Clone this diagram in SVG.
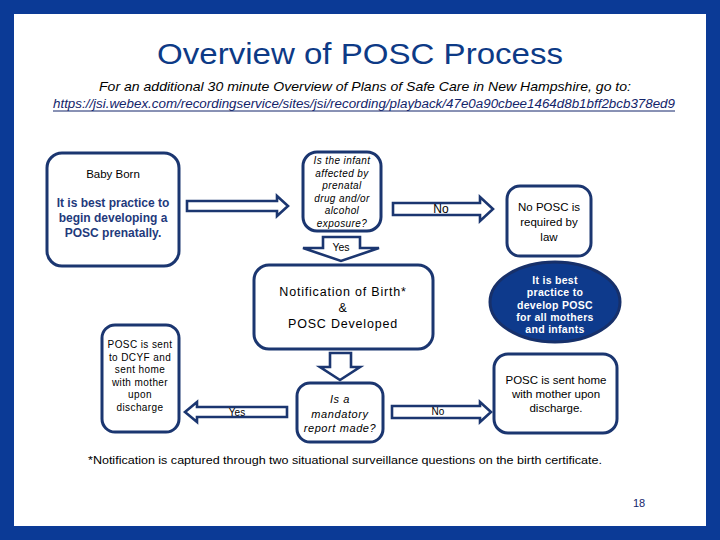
<svg xmlns="http://www.w3.org/2000/svg" width="720" height="540" viewBox="0 0 720 540">
<style>
.box{fill:#fff;stroke:#1b3670;stroke-width:3}
.arr{fill:#fff;stroke:#1b3670;stroke-width:2.6;stroke-linejoin:miter}
.t{font-family:"Liberation Sans",Arial,sans-serif;fill:#000;text-anchor:middle}
.q{font-family:"Liberation Sans",Arial,sans-serif;font-style:italic;fill:#000;text-anchor:middle}
.b{font-family:"Liberation Sans",Arial,sans-serif;font-weight:bold;fill:#1f3a7c;text-anchor:middle}
.w{font-family:"Liberation Sans",Arial,sans-serif;font-weight:bold;fill:#fff;text-anchor:middle}
</style>
<rect x="0" y="0" width="720" height="540" fill="#0b3a96"/>
<rect x="14" y="14" width="692" height="512" fill="#fff"/>
<text x="360" y="64" font-family="Liberation Sans,Arial,sans-serif" font-size="30" fill="#0d3a86" text-anchor="middle" textLength="406" lengthAdjust="spacingAndGlyphs">Overview of POSC Process</text>
<text x="365" y="91" font-family="Liberation Sans,Arial,sans-serif" font-style="italic" font-size="13.5" fill="#000" text-anchor="middle" textLength="532" lengthAdjust="spacingAndGlyphs">For an additional 30 minute Overview of Plans of Safe Care in New Hampshire, go to:</text>
<text x="364" y="108" font-family="Liberation Sans,Arial,sans-serif" font-style="italic" font-size="12.5" fill="#13246a" text-anchor="middle" textLength="622" lengthAdjust="spacingAndGlyphs">https://jsi.webex.com/recordingservice/sites/jsi/recording/playback/47e0a90cbee1464d8b1bff2bcb378ed9</text>
<line x1="53" y1="111" x2="675" y2="111" stroke="#13246a" stroke-width="1"/>

<g id="connectors">
<path class="arr" d="M187,201 H277 V196 L288,206 L277,216 V211 H187 Z"/>
<path class="arr" d="M393,203 H480 V197 L493,209 L480,221 V215 H393 Z"/>
<text class="t" x="441" y="213" font-size="12">No</text>
<path class="arr" d="M323,237 H360 V248 H379 L341,261 L303,248 H323 Z"/>
<text class="t" x="341" y="251" font-size="10.5">Yes</text>
<path class="arr" d="M330,353 H351 V367 H360 L340,380 L320,367 H330 Z"/>
<path class="arr" d="M287,407 H197 V402 L185,412 L197,422 V417 H287 Z"/>
<text class="t" x="237" y="416" font-size="10">Yes</text>
<path class="arr" d="M392,406 H480 V402 L491,412 L480,422 V418 H392 Z"/>
<text class="t" x="438" y="415" font-size="10">No</text>
</g>

<g id="baby-born">
<rect class="box" x="47" y="153" width="132" height="113" rx="15"/>
<text class="t" x="113" y="178" font-size="11.5">Baby Born</text>
<text class="b" x="113" y="207" font-size="12">It is best practice to</text>
<text class="b" x="113" y="222" font-size="12">begin developing a</text>
<text class="b" x="113" y="237" font-size="12">POSC prenatally.</text>
</g>

<g id="question-affected">
<rect class="box" x="303" y="152" width="78" height="79" rx="14"/>
<g class="q" font-size="10" letter-spacing="0.4">
<text x="342" y="164">Is the infant</text>
<text x="342" y="176.5">affected by</text>
<text x="342" y="189">prenatal</text>
<text x="342" y="201.5">drug and/or</text>
<text x="342" y="214">alcohol</text>
<text x="342" y="226.5">exposure?</text>
</g>
</g>

<g id="no-posc">
<rect class="box" x="507" y="186" width="84" height="70" rx="13"/>
<text class="t" x="549" y="211" font-size="11.5">No POSC is</text>
<text class="t" x="549" y="226" font-size="11.5">required by</text>
<text class="t" x="549" y="241" font-size="11.5">law</text>
</g>

<g id="notification">
<rect class="box" x="254" y="265" width="179" height="84" rx="15"/>
<g class="t" font-size="12.5" letter-spacing="0.8">
<text x="343" y="296">Notification of Birth*</text>
<text x="343" y="312">&amp;</text>
<text x="343" y="328">POSC  Developed</text>
</g>
</g>

<g id="best-practice">
<ellipse cx="555" cy="302" rx="65" ry="40" fill="#0e3a8c" stroke="#17306a" stroke-width="3"/>
<g class="w" font-size="10.5" letter-spacing="0.3">
<text x="555" y="284">It is best</text>
<text x="555" y="296">practice to</text>
<text x="555" y="308.5">develop POSC</text>
<text x="555" y="320.5">for all mothers</text>
<text x="555" y="333">and infants</text>
</g>
</g>

<g id="sent-dcyf">
<rect class="box" x="102" y="325" width="77" height="107" rx="13"/>
<g class="t" font-size="10" letter-spacing="0.4">
<text x="140" y="348">POSC is sent</text>
<text x="140" y="360.5">to DCYF and</text>
<text x="140" y="373">sent home</text>
<text x="140" y="385.5">with mother</text>
<text x="140" y="398">upon</text>
<text x="140" y="410.5">discharge</text>
</g>
</g>

<g id="mandatory-report">
<rect class="box" x="297" y="383" width="86" height="59" rx="13"/>
<g class="q" font-size="11" letter-spacing="0.6">
<text x="340" y="403">Is a</text>
<text x="340" y="417.5">mandatory</text>
<text x="340" y="432">report made?</text>
</g>
</g>

<g id="sent-home">
<rect class="box" x="494" y="354" width="123" height="79" rx="14"/>
<text class="t" x="556" y="384" font-size="11.5">POSC is sent home</text>
<text class="t" x="556" y="398" font-size="11.5">with mother upon</text>
<text class="t" x="556" y="412" font-size="11.5">discharge.</text>
</g>

<text x="88" y="464" font-family="Liberation Sans,Arial,sans-serif" font-size="11.5" fill="#000" textLength="514" lengthAdjust="spacingAndGlyphs">*Notification is captured through two situational surveillance questions on the birth certificate.</text>
<text x="639" y="507" font-family="Liberation Sans,Arial,sans-serif" font-size="11" fill="#13246a" text-anchor="middle">18</text>
</svg>
